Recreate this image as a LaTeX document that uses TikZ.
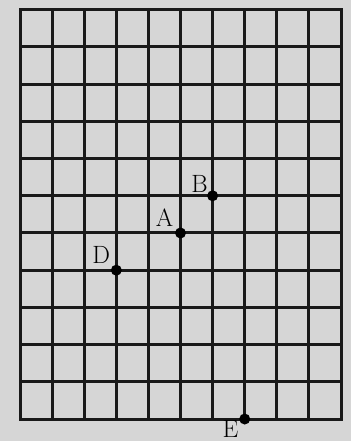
\documentclass[tikz,border=0pt]{standalone}
\usepackage{fontspec}
\usetikzlibrary{positioning}

\tikzset{
    gridline/.style={line width=3pt, black!90, line cap=rect},
    dot/.style={circle, fill=black, inner sep=0pt, minimum size=11pt},
    ptlabel/.style={font=\fontsize{25}{28}\selectfont, inner sep=0pt}
}

\begin{document}
\begin{tikzpicture}[x=32.1pt, y=37.2pt]
    % page and paper tone
    \useasboundingbox[fill=black!16] (-0.623, -0.591) rectangle (10.312, 11.263);

    % the grid, 10 by 11 squares
    \foreach \i in {0,...,10}
        \draw[gridline] (\i, 0) -- (\i, 11);
    \foreach \j in {0,...,11}
        \draw[gridline] (0, \j) -- (10, \j);

    % marked points
    \node[dot] (A) at (5, 5){};
    \node[dot] (B) at (6, 6){};
    \node[dot] (D) at (3, 4){};
    \node[dot] (E) at (7, 0){};

    \node[ptlabel] (labA) at (4.50, 5.40){A};
    \node[ptlabel] (labB) at (5.59, 6.33){B};
    \node[ptlabel] (labD) at (2.53, 4.40){D};
    \node[ptlabel] (labE) at (6.56, -0.27){E};
\end{tikzpicture}
\end{document}
